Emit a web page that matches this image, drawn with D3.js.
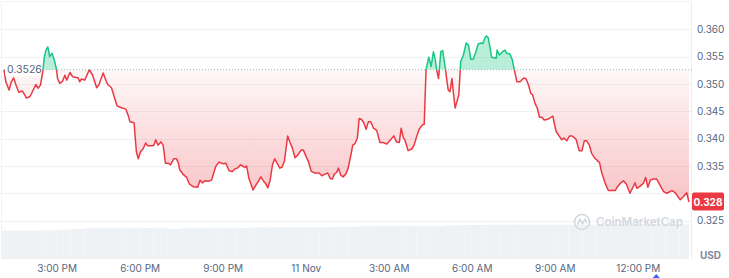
<!DOCTYPE html>
<html lang="en">
<head>
<meta charset="utf-8">
<title>Price chart</title>
<script src="https://cdn.jsdelivr.net/npm/d3@7"></script>
<style>
  body { margin: 0; background: #fff; }
  svg { display: block; font-family: Inter, "Noto Sans", sans-serif; }
  .tick text { fill: #58667e; }
</style>
</head>
<body>
<script>
// price samples, 10 Nov 13:06 -> 11 Nov 13:51 (times roll over midnight)
var times = ["13:06","13:10","13:17","13:22","13:27","13:32","13:38","13:46","13:55","14:02","14:06","14:15","14:20","14:25","14:30","14:33","14:37","14:41","14:45","14:50","14:55","15:00","15:02","15:07","15:13","15:18","15:22","15:29","15:35","15:47","15:50","15:54","16:01","16:11","16:18","16:27","16:32","16:41","16:48","16:52","16:59","17:06","17:11","17:19","17:30","17:35","17:39","17:48","17:50","17:53","17:57","18:02","18:08","18:13","18:17","18:28","18:31","18:35","18:40","18:46","18:51","18:56","19:02","19:07","19:14","19:20","19:24","19:27","19:35","19:42","19:48","19:56","20:06","20:11","20:16","20:22","20:29","20:36","20:45","20:52","21:01","21:07","21:14","21:21","21:27","21:32","21:39","21:45","21:48","21:52","21:57","22:06","22:12","22:17","22:23","22:28","22:33","22:38","22:43","22:48","22:53","22:58","23:04","23:09","23:14","23:21","23:26","23:31","23:37","23:43","23:50","23:55","00:01","00:06","00:12","00:20","00:29","00:35","00:42","00:48","00:53","00:58","01:02","01:07","01:11","01:16","01:21","01:27","01:32","01:38","01:42","01:47","01:52","01:56","02:01","02:06","02:11","02:16","02:21","02:27","02:34","02:41","02:48","02:56","03:04","03:11","03:17","03:23","03:27","03:32","03:35","03:42","03:50","03:55","04:01","04:06","04:14","04:17","04:21","04:24","04:27","04:32","04:37","04:41","04:44","04:48","04:53","04:57","05:03","05:06","05:09","05:13","05:17","05:20","05:24","05:27","05:32","05:35","05:36","05:42","05:48","05:53","05:58","06:03","06:09","06:14","06:20","06:24","06:29","06:32","06:36","06:40","06:43","06:53","06:55","07:00","07:07","07:12","07:16","07:23","07:28","07:32","07:38","07:45","07:48","07:53","07:58","08:03","08:08","08:12","08:17","08:22","08:27","08:32","08:37","08:43","08:48","08:56","08:59","09:03","09:10","09:15","09:20","09:26","09:32","09:37","09:46","09:53","09:59","10:04","10:09","10:15","10:20","10:27","10:37","10:42","10:49","10:56","11:11","11:16","11:22","11:29","11:35","11:43","11:50","11:54","11:58","12:05","12:12","12:17","12:22","12:27","12:34","12:41","12:48","12:56","13:03","13:14","13:21","13:32","13:39","13:46","13:51"];

var prices = [0.3526,0.3504,0.3489,0.3504,0.3511,0.3498,0.3485,0.3487,0.3474,0.3477,0.3483,0.3499,0.3492,0.3498,0.3522,0.3547,0.3562,0.3568,0.3550,0.3556,0.3544,0.3526,0.3510,0.3501,0.3505,0.3516,0.3507,0.3521,0.3513,0.3511,0.3504,0.3509,0.3507,0.3526,0.3516,0.3493,0.3499,0.3520,0.3504,0.3498,0.3493,0.3474,0.3460,0.3457,0.3454,0.3443,0.3431,0.3429,0.3407,0.3376,0.3363,0.3376,0.3382,0.3392,0.3387,0.3387,0.3388,0.3398,0.3388,0.3394,0.3388,0.3355,0.3355,0.3352,0.3363,0.3363,0.3355,0.3343,0.3334,0.3329,0.3317,0.3312,0.3311,0.3324,0.3319,0.3323,0.3322,0.3324,0.3349,0.3357,0.3354,0.3355,0.3341,0.3340,0.3345,0.3346,0.3352,0.3349,0.3347,0.3350,0.3327,0.3306,0.3315,0.3321,0.3330,0.3323,0.3318,0.3310,0.3324,0.3352,0.3363,0.3355,0.3346,0.3348,0.3359,0.3405,0.3393,0.3383,0.3365,0.3370,0.3379,0.3379,0.3367,0.3358,0.3340,0.3337,0.3337,0.3332,0.3335,0.3337,0.3327,0.3326,0.3335,0.3338,0.3346,0.3333,0.3330,0.3335,0.3346,0.3370,0.3388,0.3391,0.3401,0.3437,0.3435,0.3429,0.3417,0.3431,0.3431,0.3419,0.3415,0.3393,0.3393,0.3390,0.3398,0.3405,0.3394,0.3393,0.3419,0.3401,0.3398,0.3378,0.3381,0.3388,0.3405,0.3417,0.3426,0.3426,0.3527,0.3538,0.3549,0.3532,0.3559,0.3544,0.3526,0.3510,0.3559,0.3561,0.3527,0.3507,0.3489,0.3486,0.3510,0.3486,0.3456,0.3465,0.3480,0.3526,0.3541,0.3553,0.3575,0.3571,0.3545,0.3545,0.3559,0.3573,0.3575,0.3574,0.3585,0.3588,0.3584,0.3565,0.3549,0.3547,0.3562,0.3553,0.3559,0.3562,0.3556,0.3555,0.3544,0.3527,0.3504,0.3504,0.3507,0.3511,0.3509,0.3498,0.3483,0.3480,0.3465,0.3456,0.3439,0.3439,0.3434,0.3435,0.3437,0.3441,0.3428,0.3413,0.3404,0.3398,0.3401,0.3396,0.3405,0.3405,0.3399,0.3378,0.3378,0.3396,0.3396,0.3388,0.3373,0.3364,0.3356,0.3337,0.3319,0.3305,0.3305,0.3312,0.3318,0.3323,0.3317,0.3300,0.3312,0.3319,0.3309,0.3313,0.3318,0.3329,0.3311,0.3324,0.3326,0.3326,0.3315,0.3303,0.3300,0.3305,0.3301,0.3288,0.3294,0.3301,0.3284];

var openPrice = 0.3526;

// volume, one bar per half hour starting 10 Nov 13:00 (millions USD)
var volStart = "13:00";
var volumes = [81,81,81,82,84,86,88,88,88,88,89,89,86,88,88,88,88,89,90,90,90,91,91,91,92,93,94,95,95,95,94,94,96,97,97,98,98,98,98,98,98,98,98,98,99,99,99,99,99,99];

var yTicks = [0.325, 0.330, 0.335, 0.340, 0.345, 0.350, 0.355, 0.360];
var xTickLabels = ["3:00 PM","6:00 PM","9:00 PM","11 Nov","3:00 AM","6:00 AM","9:00 AM","12:00 PM"];

var w = 729, h = 278;
var plotRight = 692;

// turn HH:MM strings into dates, moving to the next day when the clock wraps
function toDates(list) {
  var day = 10, prev = -1;
  return list.map(function(s) {
    var p = s.split(":"), mins = +p[0] * 60 + +p[1];
    if (mins < prev) day++;
    prev = mins;
    return new Date(2024, 10, day, +p[0], +p[1]);
  });
}

var dates = toDates(times);
var data = dates.map(function(d, i) { return { t: d, v: prices[i] }; });
var v0 = toDates([volStart])[0];
var volData = volumes.map(function(v, i) { return { t: d3.timeMinute.offset(v0, 30 * i), v: v }; });

var xScale = d3.scaleTime()
  .domain(d3.extent(dates))
  .range([4, 689]);

var yScale = d3.scaleLinear()
  .domain([0.325, 0.360])
  .range([220.6, 29.3]);

var vScale = d3.scaleLinear()
  .domain([0, 100])
  .range([259, 224]);

var svg = d3.select("body").append("svg")
  .attr("width", w)
  .attr("height", h);

var defs = svg.append("defs");
var base = yScale(openPrice);

defs.append("clipPath").attr("id", "above")
  .append("rect").attr("x", 0).attr("y", 0).attr("width", plotRight).attr("height", base);
defs.append("clipPath").attr("id", "below")
  .append("rect").attr("x", 0).attr("y", base).attr("width", plotRight).attr("height", h - base);

var redGrad = defs.append("linearGradient").attr("id", "redGrad")
  .attr("gradientUnits", "userSpaceOnUse")
  .attr("x1", 0).attr("x2", 0).attr("y1", base).attr("y2", yScale(0.3284));
redGrad.append("stop").attr("offset", 0).attr("stop-color", "#ea3943").attr("stop-opacity", 0.04);
redGrad.append("stop").attr("offset", 1).attr("stop-color", "#ea3943").attr("stop-opacity", 0.3);

// frame
svg.append("line").attr("x1", 0).attr("x2", plotRight).attr("y1", 1.5).attr("y2", 1.5)
  .attr("stroke", "#f2f3f5");
svg.append("line").attr("x1", 1.5).attr("x2", 1.5).attr("y1", 1).attr("y2", 259)
  .attr("stroke", "#f2f3f5");
svg.append("line").attr("x1", plotRight - 0.5).attr("x2", plotRight - 0.5).attr("y1", 1).attr("y2", 259)
  .attr("stroke", "#eceef2");

// horizontal grid
svg.append("g").selectAll("line")
  .data(yTicks)
  .enter()
  .append("line")
  .attr("x1", 0).attr("x2", plotRight)
  .attr("y1", function(d) { return Math.round(yScale(d)) + 0.5; })
  .attr("y2", function(d) { return Math.round(yScale(d)) + 0.5; })
  .attr("stroke", "#f0f1f3");

// volume bars
var barW = xScale(d3.timeMinute.offset(v0, 30)) - xScale(v0);
svg.append("g").selectAll("rect")
  .data(volData)
  .enter()
  .append("rect")
  .attr("x", function(d) { return xScale(d.t); })
  .attr("y", function(d) { return vScale(d.v); })
  .attr("width", function(d) { return Math.max(0, Math.min(barW, plotRight - 3 - xScale(d.t))); })
  .attr("height", function(d) { return 259 - vScale(d.v); })
  .attr("fill", "#eff2f5");

// watermark
var wm = svg.append("g").attr("transform", "translate(582,222)");
wm.append("circle").attr("r", 7.5).attr("fill", "none").attr("stroke", "#d3d8de").attr("stroke-width", 1.6);
wm.append("path").attr("d", "M-4.5,3 L-2,-3 L0.5,2 L3,-3 L4.5,1")
  .attr("fill", "none").attr("stroke", "#d3d8de").attr("stroke-width", 1.6).attr("stroke-linejoin", "round");
svg.append("text").attr("x", 596).attr("y", 226)
  .attr("font-size", "11.5px").attr("font-weight", 600).attr("fill", "#d3d8de")
  .text("CoinMarketCap");

// filled areas between the price and the opening price
var area = d3.area()
  .x(function(d) { return xScale(d.t); })
  .y0(base)
  .y1(function(d) { return yScale(d.v); });

svg.append("path").datum(data)
  .attr("clip-path", "url(#below)")
  .attr("d", area)
  .attr("fill", "url(#redGrad)");
svg.append("path").datum(data)
  .attr("clip-path", "url(#above)")
  .attr("d", area)
  .attr("fill", "#16c784").attr("fill-opacity", 0.3);

// opening price reference
svg.append("line")
  .attr("x1", 4).attr("x2", plotRight)
  .attr("y1", base).attr("y2", base)
  .attr("stroke", "#a7b1c2").attr("stroke-dasharray", "1,2");

var line = d3.line()
  .x(function(d) { return xScale(d.t); })
  .y(function(d) { return yScale(d.v); });

svg.append("path").datum(data)
  .attr("clip-path", "url(#below)")
  .attr("d", line)
  .attr("fill", "none").attr("stroke", "#ea3943").attr("stroke-width", 1.5).attr("stroke-linejoin", "round");
svg.append("path").datum(data)
  .attr("clip-path", "url(#above)")
  .attr("d", line)
  .attr("fill", "none").attr("stroke", "#16c784").attr("stroke-width", 1.5).attr("stroke-linejoin", "round");

// open price label
svg.append("rect").attr("x", 5).attr("y", base - 6.5).attr("width", 34).attr("height", 13)
  .attr("rx", 2).attr("fill", "#fff").attr("fill-opacity", 0.85);
svg.append("text").attr("x", 7).attr("y", base + 3.5)
  .attr("font-size", "10.5px").attr("fill", "#58667e")
  .text(openPrice.toFixed(4));

// y axis
var yAxis = d3.axisRight(yScale)
  .tickValues(yTicks.filter(function(d) { return d !== 0.330; }))
  .tickFormat(d3.format(".3f"))
  .tickSize(0)
  .tickPadding(0);
svg.append("g")
  .attr("transform", "translate(697,0)")
  .call(yAxis)
  .call(function(g) { g.select(".domain").remove(); })
  .selectAll("text").attr("font-size", "10px").attr("font-family", "Inter");

// last price badge
var last = data[data.length - 1];
var ly = yScale(last.v);
svg.append("rect").attr("x", plotRight).attr("y", ly - 9.5).attr("width", 32).attr("height", 18)
  .attr("rx", 2).attr("fill", "#ea3943");
svg.append("text").attr("x", plotRight + 16).attr("y", ly + 3.5)
  .attr("text-anchor", "middle").attr("font-size", "10px").attr("font-weight", 700).attr("fill", "#fff")
  .text(last.v.toFixed(3));

svg.append("text").attr("x", 700).attr("y", 259)
  .attr("font-size", "10px").attr("font-weight", 700).attr("fill", "#808a9d")
  .text("USD");

// x axis
var xTicks = d3.timeHour.every(3).range(dates[0], dates[dates.length - 1]);
var xAxis = d3.axisBottom(xScale)
  .tickValues(xTicks)
  .tickFormat(function(d, i) { return xTickLabels[i]; })
  .tickSize(0)
  .tickPadding(0);
svg.append("g")
  .attr("transform", "translate(0,265)")
  .call(xAxis)
  .call(function(g) { g.select(".domain").remove(); })
  .selectAll("text").attr("font-size", "10px").attr("font-family", "Inter");

// current-time marker under the x axis
svg.append("path")
  .attr("transform", "translate(" + xScale(new Date(2024, 10, 11, 12, 40)) + ",278)")
  .attr("d", "M-3.5,0 L0,-4 L3.5,0 Z")
  .attr("fill", "#3861fb");
</script>
</body>
</html>
